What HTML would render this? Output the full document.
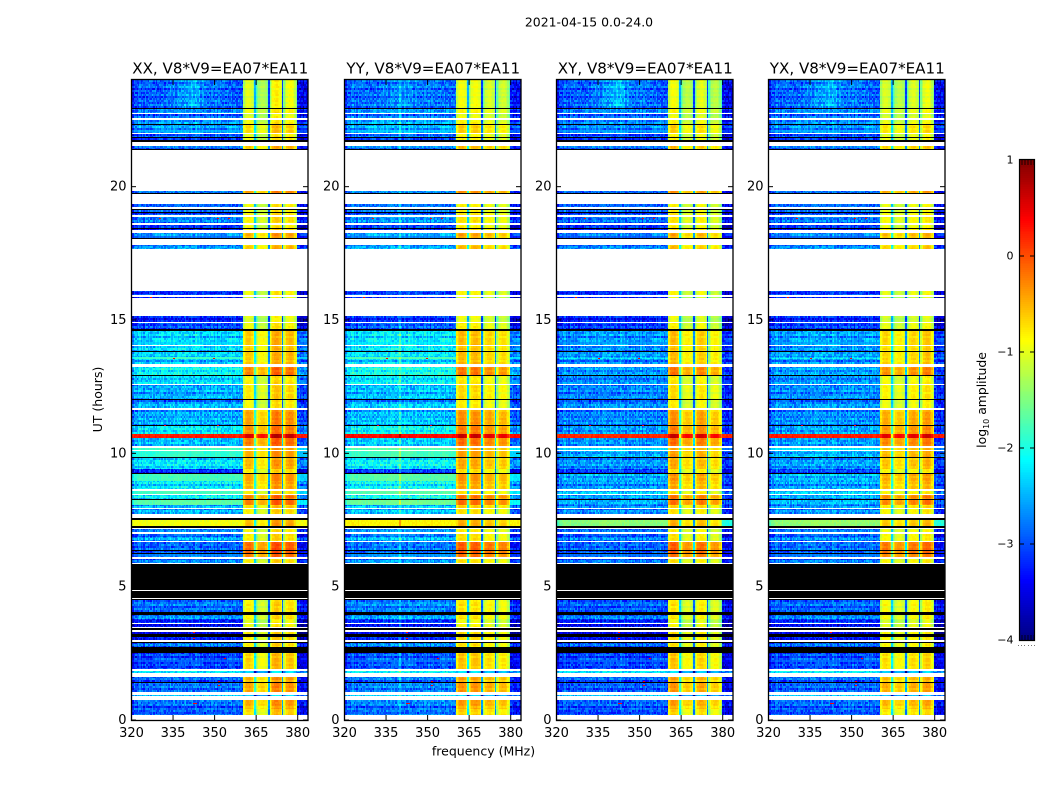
<!DOCTYPE html>
<html lang="en">
<head>
<meta charset="utf-8">
<title>2021-04-15 amplitude waterfall</title>
<style>
  html, body { margin: 0; padding: 0; background: #fff; }
  #figure { position: relative; width: 1050px; height: 800px; overflow: hidden; background: #fff; }
  canvas { position: absolute; display: block; image-rendering: pixelated; }
  #overlay { position: absolute; left: 0; top: 0; }
  text { font-family: "DejaVu Sans", "Liberation Sans", sans-serif; fill: #000; }
</style>
</head>
<body>
<div id="figure">
  <svg id="overlay" width="1050" height="800" viewBox="0 0 1050 800">
    <text x="589" y="26.5" text-anchor="middle" font-size="12.45">2021-04-15 0.0-24.0</text>
    <text x="483.5" y="755.5" text-anchor="middle" font-size="12.5">frequency (MHz)</text>
    <text x="0" y="0" transform="translate(102,399.5) rotate(-90)" text-anchor="middle" font-size="12.5">UT (hours)</text>
    <text x="0" y="0" transform="translate(986,400) rotate(-90)" text-anchor="middle" font-size="12.4">log<tspan dy="3" font-size="8">10</tspan><tspan dy="-3"> amplitude</tspan></text>
  </svg>
</div>
<script>
// ---- chart data ----------------------------------------------------------
const W = null; // no data (white)
const K = -9;   // flagged (black)

const panelTitles = ['XX, V8*V9=EA07*EA11', 'YY, V8*V9=EA07*EA11', 'XY, V8*V9=EA07*EA11', 'YX, V8*V9=EA07*EA11'];
const xTicks = [320, 335, 350, 365, 380];
const yTicks = [0, 5, 10, 15, 20];
const colorbarTicks = [-4, -3, -2, -1, 0, 1];
const colorbarTickLabels = ['\u22124', '\u22123', '\u22122', '\u22121', '0', '1'];

// UT (hours) at the top edge of each time band, descending
const bandTopUT = [
  24.00,22.94,22.90,22.77,22.73,22.56,22.50,22.35,22.32,22.02,
  21.96,21.88,21.83,21.75,21.68,21.53,21.43,21.39,19.83,19.75,
  19.73,19.35,19.23,19.17,19.12,19.05,19.01,18.95,18.93,18.85,
  18.63,18.58,18.56,18.46,18.42,18.38,18.25,18.06,18.04,17.81,
  17.66,16.08,15.92,15.88,15.82,15.16,14.93,14.88,14.66,14.60,
  14.58,14.06,14.02,13.83,13.79,13.61,13.55,13.35,13.25,12.93,
  12.89,12.61,12.56,12.05,11.99,11.94,11.69,11.64,11.05,11.02,
  10.73,10.59,10.27,10.20,10.14,10.10,9.85,9.82,9.40,9.25,
  9.23,8.95,8.67,8.57,8.48,8.43,8.29,8.26,8.06,7.96,
  7.90,7.74,7.56,7.49,7.40,7.37,7.28,7.21,7.16,7.04,
  6.98,6.85,6.72,6.66,6.37,6.33,6.27,6.23,6.10,6.02,
  5.89,5.85,4.87,4.84,4.57,4.53,4.49,4.05,3.93,3.77,
  3.65,3.61,3.50,3.44,3.36,3.30,3.21,3.10,2.99,2.93,
  2.89,2.73,2.53,1.90,1.82,1.76,1.63,1.42,1.39,1.04,
  0.95,0.90,0.76,0.58,0.55,0.43,0.40,0.17
];
// log10 amplitude of the 320-360 MHz continuum, parallel hands (XX, YY)
const continuumParallel = [
  -3.0,K,-2.8,W,-2.9,W,-2.7,K,-2.7,W,
  -3.0,K,-3.0,K,W,-2.9,K,W,-2.9,K,
  W,-3.0,W,K,-3.0,K,-3.1,K,W,-2.8,
  W,K,-3.3,K,-3.4,W,-2.8,K,W,-2.7,
  W,-3.2,W,-3.2,W,-3.3,W,-3.1,K,W,
  -2.4,W,-2.4,K,-2.4,-1.9,-2.5,W,-2.2,K,
  -2.4,W,-2.6,K,-3.2,-2.5,W,-2.6,K,-2.3,
  0.25,-2.5,W,-2.1,W,-1.95,K,-2.3,-3.3,K,
  -1.85,-2.3,W,-1.85,W,-2.3,K,-1.75,-2.6,W,
  -2.6,W,K,-0.95,W,-0.95,K,W,-2.9,W,
  -3.0,-2.6,W,-3.0,K,-3.0,K,-2.9,W,-2.8,
  W,K,W,K,W,K,-2.9,K,-2.7,-3.3,
  W,-3.4,W,K,W,-3.3,K,-3.3,W,K,
  -2.9,K,-3.1,W,-2.4,W,-3.0,K,-2.9,W,
  -2.4,W,-2.9,K,-3.0,K,-3.0,W
];
// same bands, cross hands (XY, YX)
const continuumCross = [
  -3.0,K,-2.8,W,-2.9,W,-2.8,K,-2.8,W,
  -3.1,K,-3.0,K,W,-2.9,K,W,-3.0,K,
  W,-3.0,W,K,-3.0,K,-3.1,K,W,-2.9,
  W,K,-3.3,K,-3.4,W,-2.9,K,W,-2.8,
  W,-3.2,W,-3.2,W,-3.3,W,-3.2,K,W,
  -2.7,W,-2.8,K,-2.7,-2.4,-2.8,W,-2.7,K,
  -2.8,W,-2.8,K,-3.2,-2.7,W,-2.8,K,-2.7,
  0.2,-2.7,W,-2.6,W,-2.6,K,-2.7,-3.2,K,
  -2.6,-2.7,W,-2.5,W,-2.7,K,-2.6,-2.8,W,
  -2.8,W,K,-1.5,W,-1.55,K,W,-3.0,W,
  -3.1,-2.8,W,-3.0,K,-3.0,K,-3.0,W,-2.9,
  W,K,W,K,W,K,-3.0,K,-2.8,-3.3,
  W,-3.4,W,K,W,-3.3,K,-3.4,W,K,
  -3.0,K,-3.1,W,-2.4,W,-3.0,K,-3.0,W,
  -2.4,W,-3.0,K,-3.0,K,-3.1,W
];
// log10 amplitude of the bright 360-380 MHz block in each band
const blockLevel = [
  -1.1,K,-1.0,W,-1.1,W,-1.0,K,-0.8,W,
  -1.0,K,-0.9,K,W,-0.7,K,W,-0.5,K,
  W,-1.0,W,K,-1.0,K,-0.9,K,W,-0.9,
  W,K,-1.0,K,-0.9,W,-0.6,K,W,-0.7,
  W,-1.0,W,-1.1,W,-1.1,W,-1.0,K,W,
  -0.7,W,-0.75,K,-0.7,-0.7,-0.7,W,-0.35,K,
  -0.95,W,-0.85,K,-1.0,-0.95,W,-0.5,K,-0.4,
  0.5,-0.3,W,-0.65,W,-0.55,K,-0.6,-0.9,K,
  -0.5,-0.6,W,-0.9,W,-0.35,K,-0.3,-0.8,W,
  -0.9,W,K,-0.65,W,-0.6,K,W,-1.0,W,
  -0.9,-0.9,W,-0.25,K,-0.2,K,-0.35,W,-0.9,
  W,K,W,K,W,K,-0.9,K,-0.9,-1.1,
  W,-1.0,W,K,W,-0.8,K,-0.85,W,K,
  -0.9,K,-0.75,W,-2.4,W,-0.6,K,-0.5,W,
  -2.4,W,-0.55,K,-0.6,K,-0.8,W
];

// panel adjustments
const panelContinuumOffset = [0, 0.1, 0, 0.05];
const panelTopHumpGain = [1, 0.35, 1.2, 0.9];
const subbandOffsetXX = [-0.05, -0.3, 0.15, 0.05];
const subbandOffsetYY = [0.05, 0.05, -0.1, -0.15];
const subbandOffsetXY = [0.05, -0.25, -0.05, -0.25];
const subbandOffsetYX = [-0.1, -0.25, -0.1, 0];
const panelSubbandOffsets = [subbandOffsetXX, subbandOffsetYY, subbandOffsetXY, subbandOffsetYX];
const panelSpurMHz = [W, 340, W, W];

// continuum bandpass per MHz, 320..383
const channelProfile = [
  -0.25,-0.1,0,0,0.02,0.03,0,0.02,0.03,0.04,
  0.03,0.05,0.06,0.08,0.08,0.1,0.1,0.1,0.1,0.1,
  0.08,0.08,0.1,0.1,0.08,0.06,0.05,0.05,0.04,0.04,
  0.03,0.03,0.03,0.03,0.04,0.05,0.06,0.06,0.05,0.04,
  0,0,0,0,0,0,0,0,0,0,
  0,0,0,0,0,0,0,0,0,0,
  -0.45,-0.5,-0.5,-0.45
];
// extra brightness per MHz of the top (22.9-24 h) band
const topBandHump = [
  0,0,0,0,0,0.02,0.05,0.05,0.05,0.03,
  0.02,0.05,0.1,0.12,0.1,0.1,0.15,0.2,0.25,0.3,
  0.35,0.4,0.42,0.4,0.35,0.25,0.18,0.12,0.1,0.08,
  0.1,0.12,0.1,0.08,0.05,0.05,0.05,0.02,0,0,
  0,0,0,0,0,0,0,0,0,0,
  0,0,0,0,0,0,0,0,0,0,
  0,0,0,0
];
// shape of one 5 MHz subband in 0.5 MHz channels
const subbandShape = [-0.45,-0.15,0.05,0.12,0.15,0.15,0.12,0.05,-0.15,-0.4];
// depth of the narrow notch closing the first three subbands
const subbandNotchDepth = [1.4, 2.0, 2.0];

// fine texture read from the stripes and speckle of the image
const rowStripes = [
  0.12,-0.2,0.05,0.22,-0.3,0.1,-0.05,0.18,-0.28,0.02,0.15,-0.12,0.25,-0.22,0.08,-0.02,0.2,-0.35,0.12,
  0.05,-0.15,0.18,-0.08,0.22,-0.25,0.03,0.1,-0.18,0.16,-0.3,0.2,0,-0.1,0.14,-0.22,0.06,0.17
];
const channelStripes = [
  0.05,-0.08,0.1,0.02,-0.12,0.06,0.12,-0.04,0.03,-0.1,0.08,0,-0.06,0.11,-0.02,0.04,-0.09,0.07,0.01,-0.05,0.1,
  -0.07,0.03,0.09,-0.11,0.02,0.06,-0.03,0.08,-0.06,0.04,0.1,-0.1,0,0.05,-0.04,0.07,-0.08,0.02,0.06,-0.02
];
const speckle = [
  0.21,-0.33,0.08,0.37,-0.14,-0.4,0.29,0.03,-0.22,0.16,0.41,-0.06,-0.31,0.12,0.26,-0.38,0.05,0.34,-0.18,-0.09,
  0.23,-0.27,0.39,0.01,-0.35,0.14,0.31,-0.12,-0.42,0.19,0.07,-0.24,0.36,-0.03,0.28,-0.16,-0.37,0.1,0.33,-0.2,
  -0.07,0.24,-0.29,0.17,0.43,-0.11,-0.34,0.06,0.3,-0.26,0.13,-0.01,0.2
];
// bright single-channel interference spikes
const spikeUT =  [0.65, 0.65, 1.30, 1.48, 2.33, 3.06, 3.29, 11.06, 11.06, 13.58, 13.58, 14.93, 14.93, 15.87, 18.82, 18.82, 18.82];
const spikeMHz = [342.5, 343, 351.5, 351.5, 353.5, 342.5, 342.5, 332, 351, 335, 349.5, 334, 356, 327, 330, 351, 355];

// ---- layout and scales ---------------------------------------------------
const plotTop = 80, plotBottom = 720, plotWidth = 176.5;
const firstPlotLeft = 131.9, panelStep = 212.3;
const pxPerMHz = 2.77, pxPerHour = 640 / 24;
const channelMHz = 0.5, channelCount = 128, rowHours = 0.0375, rowCount = 640;
const cbarLeft = 1020, cbarTop = 160, cbarWidth = 14, cbarHeight = 480;
const levelMin = -4, levelMax = 1;
const speckleGain = 0.7;

function panelLeft(p) { return Math.floor(firstPlotLeft + panelStep * p); }
function xScale(mhz) { return (mhz - 320) * pxPerMHz + 0.5; }
function yScale(ut) { return (24 - ut) * pxPerHour; }
function cbarScale(level) { return (levelMax - level) / (levelMax - levelMin) * cbarHeight; }

function clamp01(v) { return Math.max(0, Math.min(1, v)); }
const jetLUT = [];
for (let i = 0; i < 256; i++) {
  const t = i / 255;
  const r = Math.round(255 * clamp01(Math.min(4 * t - 1.5, -4 * t + 4.5)));
  const g = Math.round(255 * clamp01(Math.min(4 * t - 0.5, -4 * t + 3.5)));
  const b = Math.round(255 * clamp01(Math.min(4 * t + 0.5, -4 * t + 2.5)));
  jetLUT.push('rgb(' + r + ',' + g + ',' + b + ')');
}
function colorFor(level) {
  const t = clamp01((level - levelMin) / (levelMax - levelMin));
  return jetLUT[Math.round(t * 255)];
}

function bandIndexAt(ut) {
  let found = 0;
  for (let i = 0; i < bandTopUT.length; i++) {
    if (bandTopUT[i] >= ut) found = i; else break;
  }
  return found;
}

function cellLevel(p, band, mhz, r, c) {
  const series = p < 2 ? continuumParallel : continuumCross;
  const cont = series[band];
  if (cont === W) return W;
  if (cont === K) return K;
  const quiet = cont > -2.0;
  const row2 = Math.floor(r / 2);
  const idx = (c * 31 + row2 * row2 * 7 + c * row2 * 3) % speckle.length;
  const grain = speckle[idx] * (quiet ? 0.2 : speckleGain);
  const stripe = rowStripes[row2 % rowStripes.length] * (quiet ? 0.08 : 0.7);
  const inBlock = mhz >= 360.5 && mhz < 380;
  if (inBlock) {
    const sb = Math.floor((mhz - 360) / 5);
    const pos = Math.round((mhz - 360 - sb * 5) / channelMHz);
    let v = blockLevel[band] + panelSubbandOffsets[p][sb] + subbandShape[pos];
    if (pos === 9 && sb < 3) {
      v = blockLevel[band] - subbandNotchDepth[sb];
    }
    return v + stripe * 0.35 + grain * 0.2;
  }
  const mhzIndex = Math.floor(mhz - 320);
  const profile = cont > -1.5 ? 0 : channelProfile[mhzIndex];
  const hump = band === 0 ? topBandHump[mhzIndex] * panelTopHumpGain[p] : 0;
  const spur = panelSpurMHz[p] === mhz ? 0.45 : 0;
  const streaks = channelStripes[c % channelStripes.length] * (quiet ? 0.3 : 1);
  return cont + panelContinuumOffset[p] + profile + hump + spur + streaks + stripe + grain;
}

// ---- draw heatmaps -------------------------------------------------------
const figure = document.getElementById('figure');
const overlay = document.getElementById('overlay');
const heatmapNames = ['heatmap-xx', 'heatmap-yy', 'heatmap-xy', 'heatmap-yx'];

for (let p = 0; p < panelTitles.length; p++) {
  const cv = document.createElement('canvas');
  cv.width = Math.ceil(plotWidth) + 1;
  cv.height = plotBottom - plotTop;
  cv.style.left = panelLeft(p) + 'px';
  cv.style.top = plotTop + 'px';
  
  
  figure.insertBefore(cv, overlay);
  const ctx = cv.getContext('2d');
  ctx.fillStyle = '#fff';
  ctx.fillRect(0, 0, cv.width, cv.height);
  for (let r = 0; r < rowCount; r++) {
    const utTop = 24 - r * rowHours;
    const utMid = utTop - rowHours / 2;
    const band = bandIndexAt(utMid);
    const y0 = Math.round(yScale(utTop));
    const y1 = Math.round(yScale(utTop - rowHours));
    for (let c = 0; c < channelCount; c++) {
      const mhz = 320 + c * channelMHz;
      const level = cellLevel(p, band, mhz, r, c);
      if (level === W) continue;
      const x0 = Math.floor(xScale(mhz));
      const x1 = Math.floor(xScale(mhz + channelMHz));
      ctx.fillStyle = level === K ? '#000' : colorFor(level);
      ctx.fillRect(x0, y0, x1 - x0, y1 - y0);
    }
  }
  ctx.clearRect(Math.round(plotWidth) + 1, 0, cv.width, cv.height);
  for (let s = 0; s < spikeUT.length; s++) {
    const band = bandIndexAt(spikeUT[s]);
    const base = (p < 2 ? continuumParallel : continuumCross)[band];
    if (base === W || base === K) continue;
    ctx.fillStyle = colorFor(0.35);
    ctx.fillRect(Math.floor(xScale(spikeMHz[s])), Math.round(yScale(spikeUT[s])), 2, 1);
  }
}

// ---- axes ----------------------------------------------------------------
const NS = 'http://www.w3.org/2000/svg';
function line(x1, y1, x2, y2, width) {
  const el = document.createElementNS(NS, 'line');
  el.setAttribute('x1', x1);
  el.setAttribute('y1', y1);
  el.setAttribute('x2', x2);
  el.setAttribute('y2', y2);
  el.setAttribute('stroke', '#000');
  el.setAttribute('stroke-width', width);
  overlay.appendChild(el);
  return el;
}
function label(str, x, y, anchor, size) {
  const el = document.createElementNS(NS, 'text');
  el.textContent = str;
  el.setAttribute('x', x);
  el.setAttribute('y', y);
  el.setAttribute('text-anchor', anchor);
  el.setAttribute('font-size', size);
  overlay.appendChild(el);
  return el;
}

for (let p = 0; p < panelTitles.length; p++) {
  const left = panelLeft(p);
  const right = left + 0.5 + plotWidth;

  const box = document.createElementNS(NS, 'rect');
  box.setAttribute('x', left + 0.5);
  box.setAttribute('y', plotTop - 0.5);
  box.setAttribute('width', plotWidth);
  box.setAttribute('height', plotBottom - plotTop + 1);
  box.setAttribute('fill', 'none');
  box.setAttribute('stroke', '#000');
  box.setAttribute('stroke-width', '1.3');
  
  
  overlay.appendChild(box);

  const title = label(panelTitles[p], left + plotWidth / 2 + 1, 73.5, 'middle', 15.1);
  
  

  for (const tick of xTicks) {
    const x = left + xScale(tick);
    const bottomTick = line(x, plotBottom, x, plotBottom - 5, 1);
    
    
    const topTick = line(x, plotTop, x, plotTop + 5, 1);
    
    
    const tickText = label(String(tick), x, 737, 'middle', 13);
    
    
  }
  for (const tick of yTicks) {
    const y = plotTop + yScale(tick);
    const leftTick = line(left, y, left + 5, y, 1);
    
    
    const rightTick = line(right, y, right - 5, y, 1);
    
    
    const tickText = label(String(tick), left - 4.5, y + 4, 'end', 13);
    
    
  }
}

// ---- colorbar ------------------------------------------------------------
const cbCanvas = document.createElement('canvas');
cbCanvas.width = cbarWidth;
cbCanvas.height = cbarHeight;
cbCanvas.style.left = cbarLeft + 'px';
cbCanvas.style.top = cbarTop + 'px';


figure.insertBefore(cbCanvas, overlay);
const cbCtx = cbCanvas.getContext('2d');
for (let i = 0; i < cbarHeight; i++) {
  const level = levelMax - (i + 0.5) / cbarHeight * (levelMax - levelMin);
  cbCtx.fillStyle = colorFor(level);
  cbCtx.fillRect(0, Math.round(cbarScale(level) - 0.5), cbarWidth, 1);
}
const cbFrame = document.createElementNS(NS, 'rect');
cbFrame.setAttribute('x', cbarLeft - 0.5);
cbFrame.setAttribute('y', cbarTop - 0.5);
cbFrame.setAttribute('width', cbarWidth + 1);
cbFrame.setAttribute('height', cbarHeight + 1);
cbFrame.setAttribute('fill', 'none');
cbFrame.setAttribute('stroke', '#000');
cbFrame.setAttribute('stroke-width', '1.2');


overlay.appendChild(cbFrame);

for (let i = 0; i < colorbarTicks.length; i++) {
  const y = cbarTop + cbarScale(colorbarTicks[i]);
  const tickText = label(colorbarTickLabels[i], cbarLeft - 6.5, y + 3.5, 'end', 11);
  
  
  if (i > 0 && i < colorbarTicks.length - 1) {
    const leftDash = line(cbarLeft, y, cbarLeft + 4, y, 1);
    
    
    const rightDash = line(cbarLeft + cbarWidth, y, cbarLeft + cbarWidth - 4, y, 1);
    
    
  }
}
for (let i = 0; i < 5; i++) {
  const x = cbarLeft + 2 + i * 3;
  const topMark = line(x, cbarTop, x, cbarTop + 5, 0.8);
  
  
  const bottomMark = line(x, cbarTop + cbarHeight, x, cbarTop + cbarHeight - 5, 0.8);
  
  
}
for (let i = 0; i < 6; i++) {
  const dot = document.createElement('div');
  dot.style.position = 'absolute';
  dot.style.left = (cbarLeft - 2 + i * 3.2) + 'px';
  dot.style.top = '645px';
  dot.style.width = '1px';
  dot.style.height = '1px';
  dot.style.background = '#777';
  
  
  figure.appendChild(dot);
}
</script>
</body>
</html>
